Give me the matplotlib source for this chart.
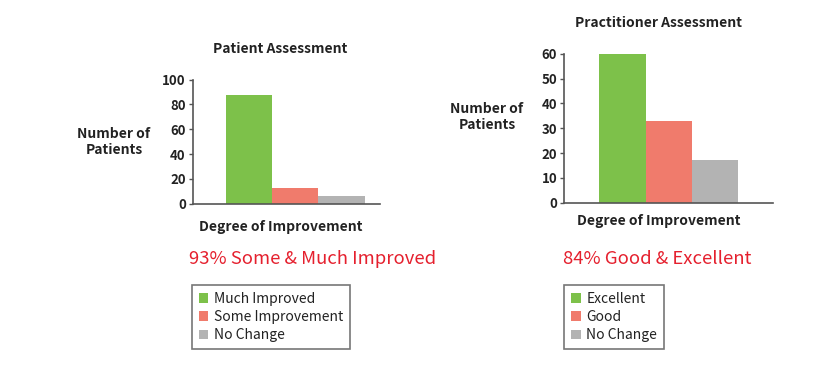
import matplotlib
matplotlib.use('Agg')
import matplotlib.pyplot as plt
from matplotlib.patches import Patch

# données
patient_labels = ['Much Improved', 'Some Improvement', 'No Change']
patient_values = [88, 13, 6]
practitioner_labels = ['Excellent', 'Good', 'No Change']
practitioner_values = [60, 33, 17]
colors = ['#7DC14A', '#F07B6C', '#B3B3B3']

plt.rcParams['font.family'] = ['Noto Sans CJK SC', 'DejaVu Sans']

W, H = 830, 378
fig = plt.figure(figsize=(W / 100, H / 100), dpi=100)


def fx(x):
    return x / W


def fy(y):
    return 1 - y / H


def draw_panel(ax, values, ylim, yticks, xlim):
    ax.bar(range(len(values)), values, width=1.0, color=colors)
    ax.set_xlim(xlim)
    ax.set_ylim(ylim)
    ax.set_yticks(yticks)
    ax.set_xticks([])
    for s in ['top', 'right']:
        ax.spines[s].set_visible(False)
    for s in ['left', 'bottom']:
        ax.spines[s].set_color('#555555')
        ax.spines[s].set_linewidth(1.2)
    ax.tick_params(axis='y', length=3, width=1, color='#555555', pad=2,
                   labelsize=9.5, labelcolor='#222222')
    for lbl in ax.get_yticklabels():
        lbl.set_fontweight('bold')


# panneau gauche : patients
ax1 = fig.add_axes([fx(192.7), fy(203.7), fx(380) - fx(192.7), fy(79.7) - fy(203.7)])
draw_panel(ax1, patient_values, (0, 100), [0, 20, 40, 60, 80, 100], (-1.22, 2.83))

# panneau droit : praticiens
ax2 = fig.add_axes([fx(564.3), fy(202.7), fx(773) - fx(564.3), fy(53.7) - fy(202.7)])
draw_panel(ax2, practitioner_values, (0, 60), [0, 10, 20, 30, 40, 50, 60], (-1.26, 3.25))

bold = dict(fontsize=10, fontweight='bold', color='#222222', ha='center', va='center')
fig.text(fx(280), fy(49), 'Patient Assessment', **bold)
fig.text(fx(658), fy(23), 'Practitioner Assessment', **bold)
fig.text(fx(114), fy(142), 'Number of\nPatients', linespacing=1.1, **bold)
fig.text(fx(487), fy(117), 'Number of\nPatients', linespacing=1.1, **bold)
fig.text(fx(281), fy(227), 'Degree of Improvement', **bold)
fig.text(fx(659), fy(221), 'Degree of Improvement', **bold)

red = dict(fontsize=13.3, fontweight='medium', color='#E5202E', ha='center', va='center')
fig.text(fx(312.5), fy(259), '93% Some & Much Improved', **red)
fig.text(fx(657), fy(259), '84% Good & Excellent', **red)


def add_legend(labels, x, y):
    handles = [Patch(facecolor=c, edgecolor='none') for c in colors]
    leg = fig.legend(handles, labels, loc='upper left', bbox_to_anchor=(fx(x), fy(y)),
                     bbox_transform=fig.transFigure, fontsize=10, frameon=True,
                     fancybox=False, handlelength=0.7, handleheight=0.7,
                     handletextpad=0.4, labelspacing=0.3, borderpad=0.5,
                     borderaxespad=0)
    leg.get_frame().set_edgecolor('#555555')
    leg.get_frame().set_linewidth(1.2)
    for t in leg.get_texts():
        t.set_color('#222222')
    return leg


add_legend(patient_labels, 191.7, 285)
add_legend(practitioner_labels, 564, 285)

fig.savefig('out.png', dpi=100)
